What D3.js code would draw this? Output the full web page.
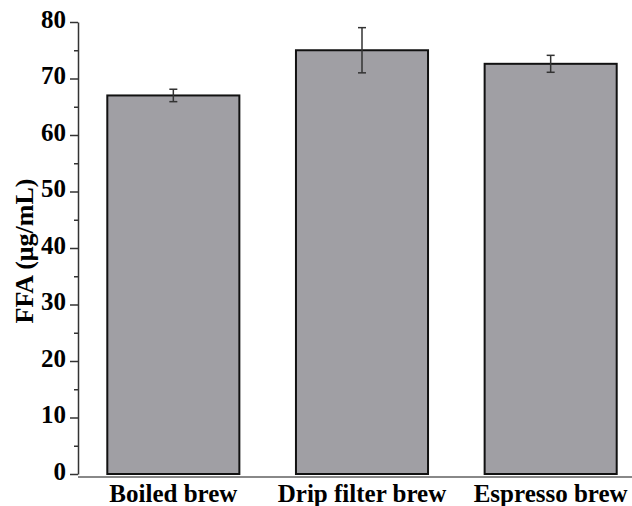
<!DOCTYPE html>
<html>
<head>
<meta charset="utf-8">
<script src="https://cdn.jsdelivr.net/npm/d3@7"></script>
<style>
  body { margin: 0; background: #fff; }
  text { font-family: "Liberation Serif", "Times New Roman", serif; font-weight: bold; }
</style>
</head>
<body>
<svg id="chart" width="632" height="506"></svg>
<script>
// data
const brews = ['Boiled brew', 'Drip filter brew', 'Espresso brew'];
const ffaMean = [67.0, 75.0, 72.6];
const ffaErr = [1.1, 4.0, 1.5];
const yTicks = [0, 10, 20, 30, 40, 50, 60, 70, 80];
const yMinorTicks = [5, 15, 25, 35, 45, 55, 65, 75];

const svg = d3.select('#chart');
const plotLeft = 78, plotBottom = 474, plotTop = 22;

// scales
const x = d3.scaleBand().domain(brews).range([79, 645]).paddingInner(0.3).paddingOuter(0.15);
const y = d3.scaleLinear().domain([0, 80]).range([plotBottom, plotTop]);

// bars
svg.selectAll('rect.bar')
  .data(brews)
  .enter()
  .append('rect')
  .attr('class', 'bar')
  .attr('x', d => x(d))
  .attr('y', (d, i) => y(ffaMean[i]))
  .attr('width', x.bandwidth())
  .attr('height', (d, i) => y(0) - y(ffaMean[i]))
  .attr('fill', '#a09fa4')
  .attr('stroke', '#111')
  .attr('stroke-width', 2);

// error bars
const capW = 4;
const eb = svg.selectAll('g.err').data(brews).enter().append('g').attr('class', 'err')
  .attr('stroke', '#333').attr('stroke-width', 1.5);
eb.append('line')
  .attr('x1', d => x(d) + x.bandwidth() / 2)
  .attr('x2', d => x(d) + x.bandwidth() / 2)
  .attr('y1', (d, i) => y(ffaMean[i] - ffaErr[i]))
  .attr('y2', (d, i) => y(ffaMean[i] + ffaErr[i]));
eb.append('line')
  .attr('x1', d => x(d) + x.bandwidth() / 2 - capW)
  .attr('x2', d => x(d) + x.bandwidth() / 2 + capW)
  .attr('y1', (d, i) => y(ffaMean[i] + ffaErr[i]))
  .attr('y2', (d, i) => y(ffaMean[i] + ffaErr[i]));
eb.append('line')
  .attr('x1', d => x(d) + x.bandwidth() / 2 - capW)
  .attr('x2', d => x(d) + x.bandwidth() / 2 + capW)
  .attr('y1', (d, i) => y(ffaMean[i] - ffaErr[i]))
  .attr('y2', (d, i) => y(ffaMean[i] - ffaErr[i]));

// y axis, major + minor ticks
const yAxis = svg.append('g')
  .attr('transform', `translate(${plotLeft},0)`)
  .call(d3.axisLeft(y).tickValues(yTicks).tickSize(8).tickSizeOuter(0).tickPadding(4));
yAxis.select('.domain').attr('stroke', '#333').attr('stroke-width', 1.5);
yAxis.selectAll('.tick line').attr('stroke', '#333').attr('stroke-width', 1.5);
yAxis.selectAll('.tick text')
  .attr('font-size', 25)
  .attr('dy', '0.2em')
  .attr('fill', '#000');

svg.append('g')
  .attr('transform', `translate(${plotLeft},0)`)
  .call(d3.axisLeft(y).tickValues(yMinorTicks).tickSize(4).tickFormat(''))
  .call(g => g.select('.domain').remove())
  .selectAll('.tick line').attr('stroke', '#333').attr('stroke-width', 1.5);

// x axis line and labels
const xAxis = svg.append('g')
  .attr('transform', `translate(0,${plotBottom + 3})`)
  .call(d3.axisBottom(x).tickSize(0).tickPadding(7));
xAxis.select('.domain')
  .attr('d', `M${plotLeft},0H632`)
  .attr('stroke', '#888')
  .attr('stroke-width', 2);
xAxis.selectAll('.tick text')
  .attr('font-size', 25)
  .attr('fill', '#000');

// y label
svg.append('text')
  .attr('transform', `translate(33,${(plotTop + plotBottom) / 2 + 3}) rotate(-90)`)
  .attr('text-anchor', 'middle')
  .attr('font-size', 26)
  .attr('fill', '#000')
  .text('FFA (μg/mL)');
</script>
</body>
</html>
